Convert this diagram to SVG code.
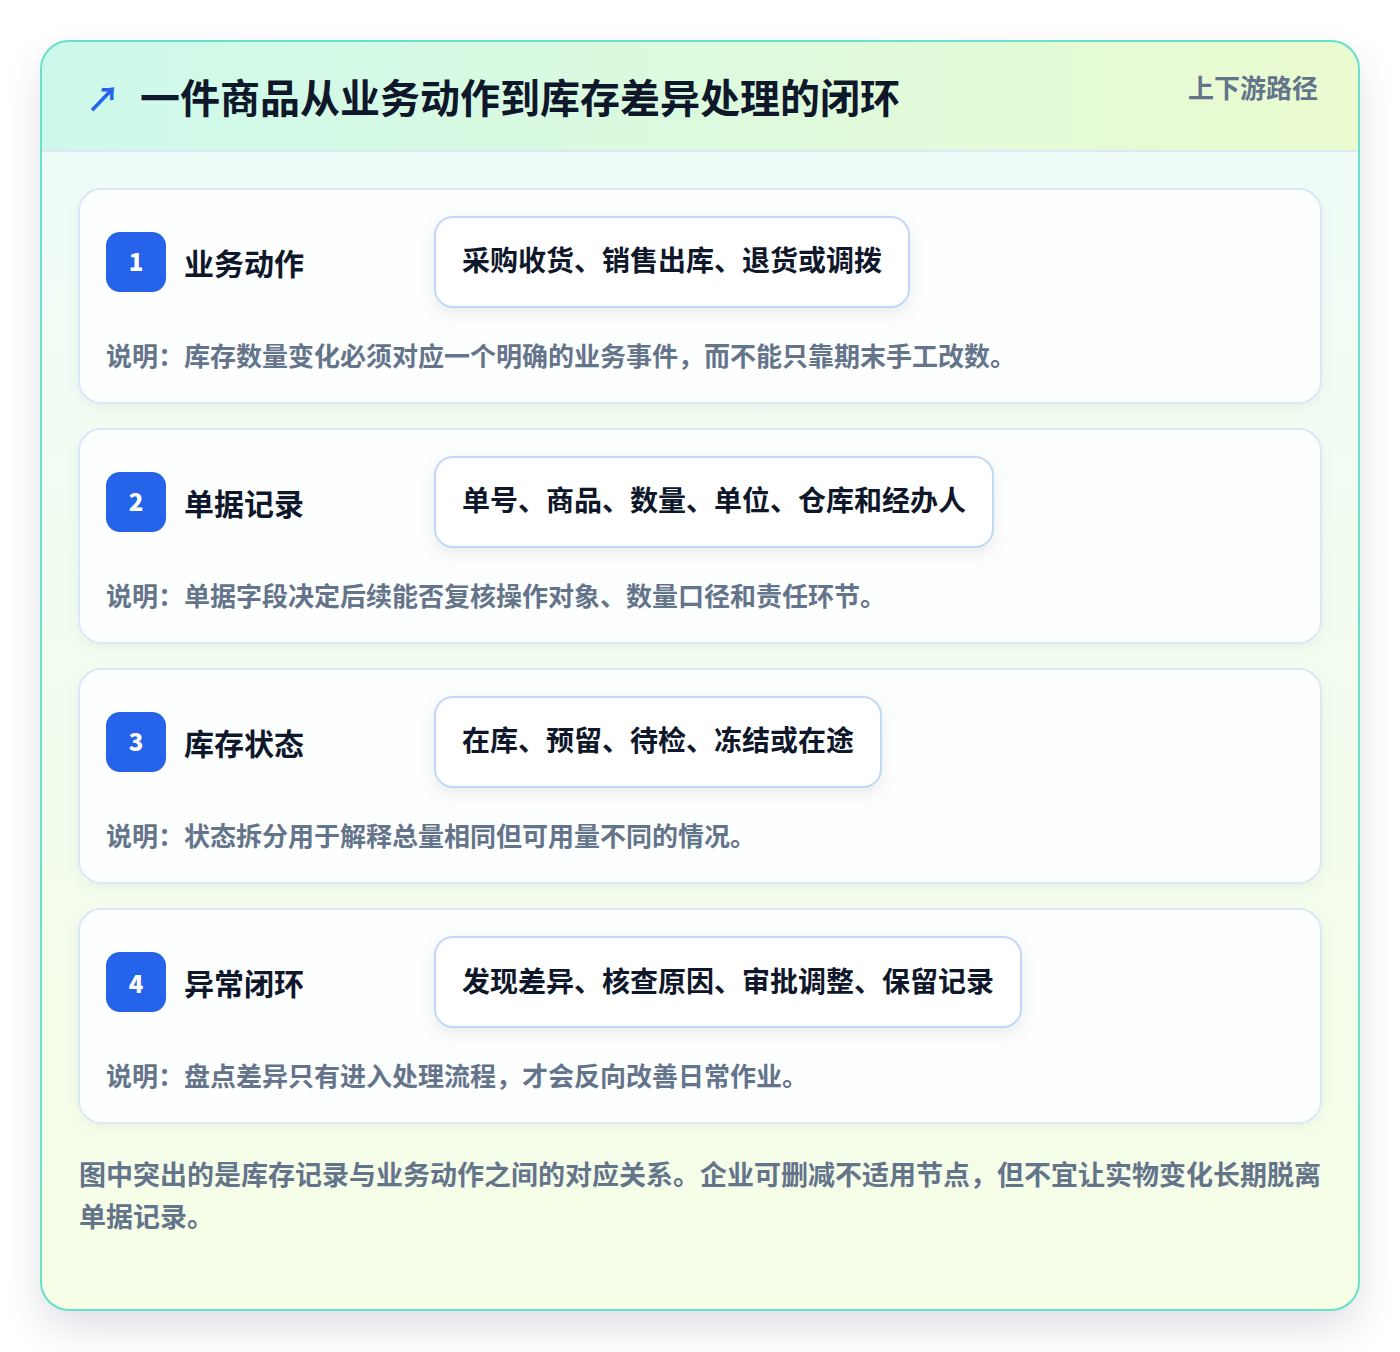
<svg xmlns="http://www.w3.org/2000/svg" width="1400" height="1352" viewBox="0 0 1400 1352">
<defs>
  <linearGradient id="hdr" x1="0" y1="0" x2="1" y2="0">
    <stop offset="0" stop-color="#cdf9ec"/>
    <stop offset="1" stop-color="#ebfbd0"/>
  </linearGradient>
  <linearGradient id="body" x1="0" y1="0" x2="0" y2="1">
    <stop offset="0" stop-color="#effcf9"/>
    <stop offset="1" stop-color="#f6fee6"/>
  </linearGradient>
  <clipPath id="outerClip"><rect x="41" y="41" width="1318" height="1269" rx="28"/></clipPath>
  <filter id="outerShadow" x="-10%" y="-10%" width="120%" height="125%">
    <feDropShadow dx="0" dy="18" stdDeviation="18" flood-color="#0f172a" flood-opacity="0.12"/>
  </filter>
  <filter id="cardShadow" x="-5%" y="-10%" width="110%" height="130%">
    <feDropShadow dx="0" dy="4" stdDeviation="6" flood-color="#0f172a" flood-opacity="0.04"/>
  </filter>
  <filter id="pillShadow" x="-10%" y="-30%" width="120%" height="170%">
    <feDropShadow dx="0" dy="6" stdDeviation="8" flood-color="#0f172a" flood-opacity="0.08"/>
  </filter>
</defs>
<style>
  .t { font-family: "Noto Sans CJK SC", "Noto Sans", sans-serif; font-weight: 700; }
  .card { fill: #fdfefe; stroke: #dbe8fa; stroke-width: 2; }
  .badge { fill: #2563eb; }
  .num { fill: #ffffff; font-size: 24px; font-weight: 900; text-anchor: middle; }
  .title { fill: #0f172a; font-size: 30px; }
  .pill { fill: #ffffff; stroke: #bfd8f6; stroke-width: 2; }
  .pilltxt { fill: #0f172a; font-size: 28px; }
  .desc { fill: #64748b; font-size: 26px; }
  .foot { fill: #64748b; font-size: 27px; }
</style>
<rect x="0" y="0" width="1400" height="1352" fill="#ffffff"/>
<g id="frame">
  <rect x="41" y="41" width="1318" height="1269" rx="28" fill="url(#body)" filter="url(#outerShadow)"/>
  <g clip-path="url(#outerClip)">
    <rect x="41" y="41" width="1318" height="110" fill="url(#hdr)"/>
    <line x1="41" y1="151" x2="1359" y2="151" stroke="#dde8f5" stroke-width="2"/>
  </g>
  <rect x="41" y="41" width="1318" height="1269" rx="28" fill="none" stroke="#67e1cc" stroke-width="2"/>
</g>
<g id="header">
  <text class="t" x="86" y="112" font-size="34" fill="#2563eb" font-family="DejaVu Sans, sans-serif">↗</text>
  <text class="t" x="140" y="113" font-size="40" fill="#0f172a">一件商品从业务动作到库存差异处理的闭环</text>
  <text class="t" x="1318" y="98" font-size="26" fill="#64748b" text-anchor="end">上下游路径</text>
</g>
<g id="node1">
  <rect class="card" x="79" y="189" width="1242" height="214" rx="22" filter="url(#cardShadow)"/>
  <rect class="badge" x="106" y="232" width="60" height="60" rx="14"/>
  <text class="t num" x="136" y="271">1</text>
  <text class="t title" x="184" y="275">业务动作</text>
  <rect class="pill" x="435" y="217" width="474" height="90" rx="18" filter="url(#pillShadow)"/>
  <text class="t pilltxt" x="462" y="271">采购收货、销售出库、退货或调拨</text>
  <text class="t desc" x="106" y="366">说明：库存数量变化必须对应一个明确的业务事件，而不能只靠期末手工改数。</text>
</g>
<g id="node2">
  <rect class="card" x="79" y="429" width="1242" height="214" rx="22" filter="url(#cardShadow)"/>
  <rect class="badge" x="106" y="472" width="60" height="60" rx="14"/>
  <text class="t num" x="136" y="511">2</text>
  <text class="t title" x="184" y="515">单据记录</text>
  <rect class="pill" x="435" y="457" width="558" height="90" rx="18" filter="url(#pillShadow)"/>
  <text class="t pilltxt" x="462" y="511">单号、商品、数量、单位、仓库和经办人</text>
  <text class="t desc" x="106" y="606">说明：单据字段决定后续能否复核操作对象、数量口径和责任环节。</text>
</g>
<g id="node3">
  <rect class="card" x="79" y="669" width="1242" height="214" rx="22" filter="url(#cardShadow)"/>
  <rect class="badge" x="106" y="712" width="60" height="60" rx="14"/>
  <text class="t num" x="136" y="751">3</text>
  <text class="t title" x="184" y="755">库存状态</text>
  <rect class="pill" x="435" y="697" width="446" height="90" rx="18" filter="url(#pillShadow)"/>
  <text class="t pilltxt" x="462" y="751">在库、预留、待检、冻结或在途</text>
  <text class="t desc" x="106" y="846">说明：状态拆分用于解释总量相同但可用量不同的情况。</text>
</g>
<g id="node4">
  <rect class="card" x="79" y="909" width="1242" height="214" rx="22" filter="url(#cardShadow)"/>
  <rect class="badge" x="106" y="952" width="60" height="60" rx="14"/>
  <text class="t num" x="136" y="993">4</text>
  <text class="t title" x="184" y="995">异常闭环</text>
  <rect class="pill" x="435" y="937" width="586" height="90" rx="18" filter="url(#pillShadow)"/>
  <text class="t pilltxt" x="462" y="992">发现差异、核查原因、审批调整、保留记录</text>
  <text class="t desc" x="106" y="1086">说明：盘点差异只有进入处理流程，才会反向改善日常作业。</text>
</g>
<g id="connectors"></g>
<g id="footer">
  <text class="t foot" x="79" y="1185">图中突出的是库存记录与业务动作之间的对应关系。企业可删减不适用节点，但不宜让实物变化长期脱离</text>
  <text class="t foot" x="79" y="1227">单据记录。</text>
</g>
</svg>
